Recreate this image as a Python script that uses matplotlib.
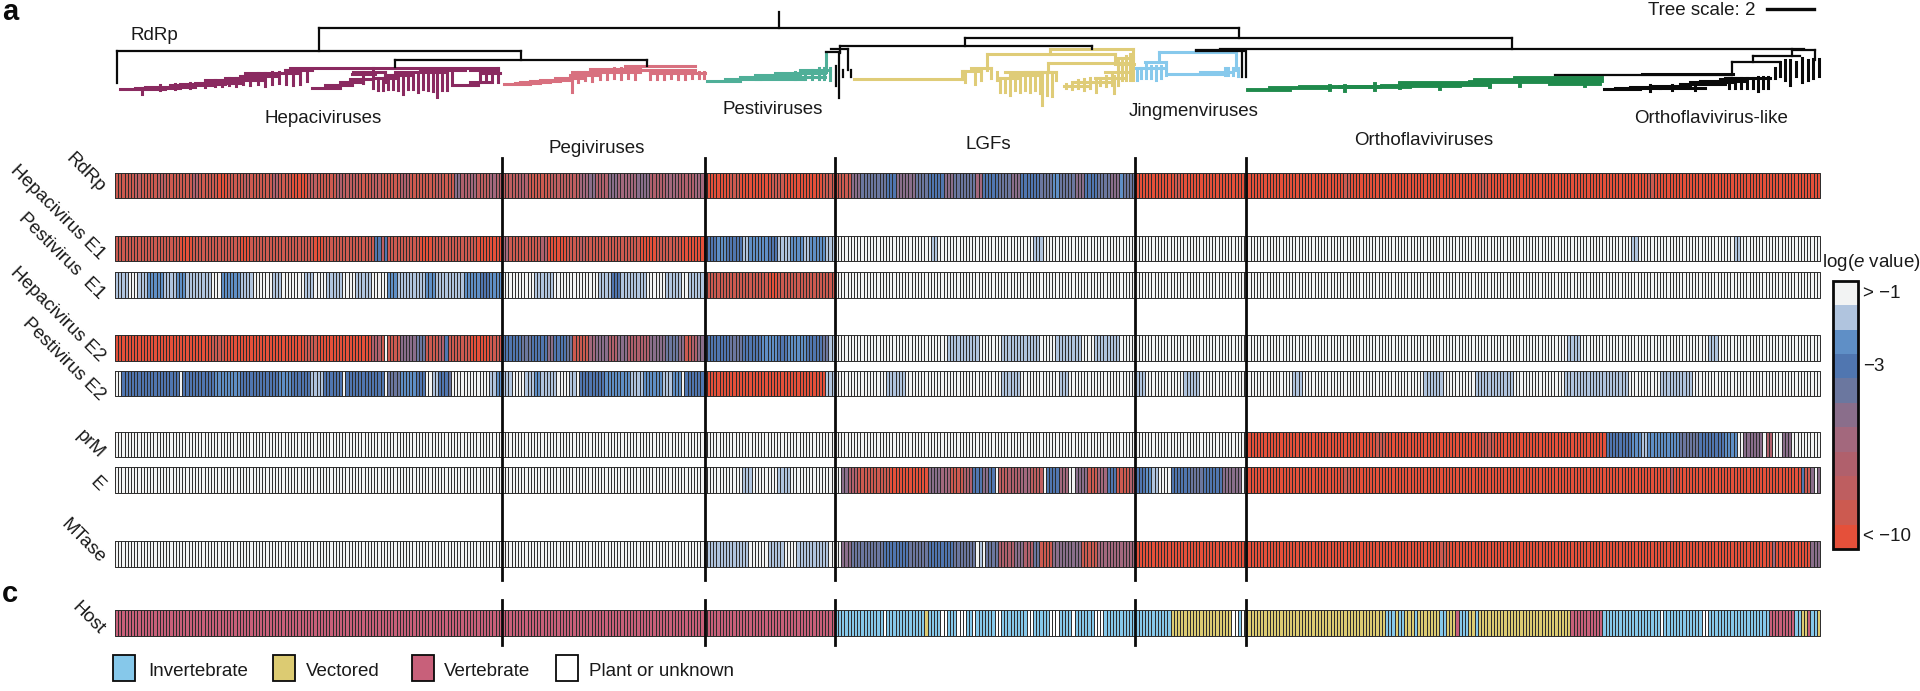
import numpy as np
import matplotlib
matplotlib.use('Agg')
from matplotlib import pyplot as plt
from matplotlib.collections import LineCollection
from matplotlib.colors import ListedColormap
from matplotlib.patches import Rectangle

plt.rcParams['font.family'] = ['Liberation Sans', 'DejaVu Sans']
plt.rcParams['mathtext.fontset'] = 'custom'
plt.rcParams['mathtext.it'] = 'Liberation Sans:italic'
plt.rcParams['mathtext.rm'] = 'Liberation Sans'

# ---- heat map values: runs of (cells, level), one list per section of the tree ----
# level 0 = "> -1" ... level 10 = "< -10"
section_cells = [121, 63, 41, 94, 35, 179]

rdrp = [
    [(6, 9), (2, 8), (5, 9), (3, 8), (8, 9), (2, 7), (6, 9), (3, 10), (5, 9), (2, 8), (7, 9), (2, 7), (4, 9), (5, 10),
     (3, 8), (6, 9), (2, 7), (5, 8), (4, 9), (3, 8), (6, 9), (3, 7), (8, 9), (2, 8), (4, 9),
     (2, 5), (3, 7), (2, 6), (4, 8), (2, 6), (2, 7)],
    [(5, 8), (3, 7), (7, 9), (3, 8), (6, 8), (3, 6), (2, 5), (4, 7), (3, 5), (6, 6), (4, 5), (5, 7), (4, 6), (5, 7), (3, 6)],
    [(8, 10), (3, 9), (10, 10), (4, 9), (12, 10), (4, 9)],
    [(5, 9), (3, 5), (8, 4), (3, 3), (6, 5), (4, 4), (5, 3), (3, 5), (7, 4), (2, 6), (5, 3), (4, 4), (3, 5), (6, 3),
     (4, 4), (2, 2), (5, 4), (3, 5), (4, 3), (4, 4), (3, 5), (1, 2), (4, 4)],
    [(12, 10), (2, 9), (21, 10)],
    [(30, 10), (2, 9), (40, 10), (3, 9), (50, 10), (2, 9), (52, 10)],
]
hepaci_e1 = [
    [(20, 9), (4, 10), (15, 9), (3, 10), (20, 9), (3, 10), (16, 9), (2, 3), (1, 8), (1, 3), (10, 9), (4, 10), (14, 9), (7, 10)],
    [(2, 6), (10, 9), (2, 7), (6, 10), (4, 9), (2, 8), (17, 9), (5, 10), (8, 9), (7, 10)],
    [(4, 3), (3, 2), (5, 3), (2, 1), (6, 2), (3, 3), (4, 1), (4, 2), (2, 1), (5, 2), (3, 1)],
    [(30, 0), (2, 1), (30, 0), (3, 1), (29, 0)],
    [(35, 0)],
    [(120, 0), (2, 1), (30, 0), (2, 1), (25, 0)],
]
pesti_e1 = [
    [(4, 1), (3, 0), (3, 1), (5, 2), (4, 1), (3, 2), (8, 1), (3, 0), (6, 2), (4, 1), (6, 0), (3, 1), (7, 0), (3, 1),
     (4, 0), (3, 1), (2, 1), (4, 0), (3, 1), (2, 1), (5, 0), (3, 2), (2, 1), (7, 1), (3, 2), (6, 1), (3, 1), (5, 2),
     (3, 3), (4, 2)],
    [(10, 0), (6, 1), (14, 0), (4, 1), (3, 3), (8, 1), (6, 0), (5, 1), (2, 0), (5, 1)],
    [(20, 9), (3, 10), (16, 9), (2, 9)],
    [(94, 0)],
    [(35, 0)],
    [(179, 0)],
]
hepaci_e2 = [
    [(30, 10), (4, 9), (25, 10), (4, 9), (17, 10), (3, 7), (1, 9), (1, 0), (4, 9), (5, 5), (3, 4), (4, 9), (2, 7),
     (1, 3), (7, 9), (6, 10), (4, 9)],
    [(6, 3), (3, 4), (5, 3), (2, 5), (4, 3), (2, 4), (5, 9), (2, 6), (4, 5), (3, 7), (3, 5), (4, 7), (3, 7), (5, 5),
     (4, 4), (2, 5), (2, 9), (2, 7), (2, 5)],
    [(8, 3), (4, 4), (6, 3), (5, 2), (3, 3), (6, 2), (5, 3), (2, 4), (2, 1)],
    [(35, 0), (10, 1), (7, 0), (12, 1), (5, 0), (8, 1), (4, 0), (8, 1), (5, 0)],
    [(35, 0)],
    [(100, 0), (4, 1), (40, 0), (3, 1), (32, 0)],
]
pesti_e2 = [
    [(2, 0), (18, 3), (1, 0), (10, 3), (8, 2), (12, 3), (4, 2), (6, 3), (4, 1), (6, 3), (1, 0), (12, 3), (1, 0), (4, 4),
     (5, 2), (3, 3), (2, 0), (2, 1), (3, 3), (1, 4), (12, 0), (2, 1), (2, 2)],
    [(3, 1), (4, 0), (3, 1), (2, 2), (5, 1), (4, 0), (2, 1), (1, 0), (8, 3), (8, 2), (4, 1), (6, 2), (3, 1), (3, 2), (1, 0), (6, 3)],
    [(38, 10), (3, 1)],
    [(16, 0), (6, 1), (30, 0), (6, 1), (12, 0), (3, 1), (21, 0)],
    [(3, 1), (12, 0), (5, 1), (15, 0)],
    [(14, 0), (3, 1), (38, 0), (6, 1), (10, 0), (4, 1), (8, 1), (16, 0), (20, 1), (10, 0), (10, 1), (40, 0)],
]
prm = [
    [(121, 0)],
    [(63, 0)],
    [(41, 0)],
    [(94, 0)],
    [(35, 0)],
    [(40, 10), (3, 9), (30, 10), (4, 9), (35, 10), (8, 3), (3, 2), (2, 1), (10, 2), (6, 4), (8, 3), (4, 2),
     (2, 0), (6, 5), (1, 0), (2, 7), (3, 0), (3, 5), (9, 0)],
]
env = [
    [(121, 0)],
    [(63, 0)],
    [(12, 0), (3, 1), (8, 0), (4, 1), (14, 0)],
    [(2, 0), (2, 5), (3, 7), (10, 9), (12, 10), (4, 5), (3, 6), (4, 9), (3, 7), (3, 3), (2, 5), (2, 3), (1, 0), (3, 8),
     (4, 7), (3, 6), (4, 8), (1, 0), (4, 3), (3, 6), (2, 0), (4, 5), (3, 9), (3, 6), (3, 3), (4, 9), (2, 7)],
    [(3, 3), (2, 2), (2, 1), (4, 0), (6, 3), (4, 4), (6, 3), (6, 5), (2, 0)],
    [(30, 10), (2, 9), (100, 10), (1, 7), (40, 10), (1, 3), (2, 9), (1, 5), (1, 0), (1, 5)],
]
mtase = [
    [(121, 0)],
    [(63, 0)],
    [(14, 1), (6, 0), (5, 1), (4, 0), (6, 1), (4, 1), (2, 0)],
    [(2, 0), (3, 5), (10, 4), (8, 3), (6, 4), (8, 3), (7, 4), (1, 0), (1, 1), (1, 0), (4, 4), (5, 7), (3, 5), (3, 7),
     (2, 4), (4, 9), (9, 5), (5, 9), (12, 6)],
    [(35, 10)],
    [(60, 10), (2, 9), (102, 10), (1, 6), (11, 10), (3, 5)],
]
# host runs: 0 plant or unknown, 1 invertebrate, 2 vectored, 3 vertebrate
host = [
    [(121, 3)],
    [(63, 3)],
    [(41, 3)],
    [(15, 1), (1, 0), (12, 1), (1, 2), (4, 1), (2, 0), (3, 1), (3, 0), (2, 1), (1, 0), (6, 1), (2, 0), (8, 1), (2, 0),
     (5, 1), (3, 0), (4, 1), (1, 0), (6, 1), (3, 0), (10, 1)],
    [(11, 1), (19, 2), (2, 0), (1, 1), (2, 0)],
    [(43, 2), (3, 1), (1, 2), (2, 1), (3, 2), (1, 1), (3, 2), (4, 2), (2, 1), (3, 2), (1, 3), (3, 1), (2, 2), (1, 1),
     (10, 2), (19, 2), (10, 3), (18, 1), (1, 0), (12, 1), (2, 0), (19, 1), (8, 3), (2, 1), (2, 2), (1, 3), (2, 1), (1, 2)],
]

row_names = ['RdRp', 'Hepacivirus E1', 'Pestivirus  E1', 'Hepacivirus E2', 'Pestivirus E2', 'prM', 'E', 'MTase']
row_values = [rdrp, hepaci_e1, pesti_e1, hepaci_e2, pesti_e2, prm, env, mtase]

level_colors = ['#F2F3F3', '#B0C4DE', '#5F8FC6', '#5076B0', '#6B779F', '#8A6E8B',
                '#A3687D', '#B0606C', '#BE5E60', '#CC5A50', '#E5503A']
cbar_labels = ['> \u22121', '\u22123', '< \u221210']
cbar_label_levels = [0, 3, 10]
host_names = ['Invertebrate', 'Vectored', 'Vertebrate', 'Plant or unknown']
host_colors = ['#FFFFFF', '#86C8EA', '#DCCB72', '#C8607A']

# ---- tree: horizontals (x0, x1, y), verticals (x, y0, y1) ----
main_h = [(319, 1239, 28), (117, 521, 51), (395, 647, 60), (965, 1512, 38), (840, 1092, 46), (1196, 1244, 51),
          (1196, 1244, 50), (1220, 1804, 49), (1792, 1815, 50), (1753, 1800, 56), (1732, 1780, 62), (1555, 1732, 75),
          (831, 848, 49), (826, 840, 52)]
main_v = [(779, 12, 28), (319, 28, 51), (1239, 28, 38), (117, 51, 83), (521, 51, 60), (395, 60, 67), (647, 60, 66),
          (965, 38, 46), (840, 46, 53), (1092, 46, 49), (1512, 38, 49), (1732, 62, 75), (1753, 56, 62), (1792, 49, 56),
          (1815, 50, 60), (839, 52, 98), (836, 66, 86), (848, 49, 70), (1242, 51, 77), (1246, 51, 77)]
main_tips = [(843, 70, 77), (851, 70, 77)]

like_h = [(1604, 1640, 89), (1615, 1660, 88), (1630, 1680, 87), (1650, 1690, 86), (1660, 1705, 88), (1680, 1725, 84),
          (1690, 1735, 82), (1700, 1745, 81), (1725, 1770, 78), (1642, 1733, 74), (1720, 1745, 79)]
like_tips = [(1650, 85, 91), (1672, 85, 90), (1695, 84, 90), (1729, 78, 88), (1735, 78, 88), (1741, 78, 88), (1747, 78, 88),
             (1753, 78, 88), (1758, 77, 91), (1763, 77, 88), (1768, 77, 88), (1775, 68, 78), (1780, 62, 76),
             (1785, 60, 80), (1790, 60, 85), (1796, 62, 76), (1802, 58, 82), (1808, 60, 80), (1813, 59, 78),
             (1819, 59, 76)]

hepaci_h = [(120, 165, 89), (135, 180, 88), (145, 195, 87), (170, 215, 85), (180, 225, 84), (195, 240, 83), (205, 262, 80),
            (225, 262, 78), (240, 278, 76), (245, 300, 73), (285, 312, 70), (290, 498, 68), (312, 340, 88), (325, 352, 85),
            (340, 363, 82), (350, 373, 79), (352, 375, 74), (353, 385, 72), (375, 395, 78), (385, 410, 75), (395, 445, 72),
            (420, 465, 70), (455, 478, 85), (470, 490, 82), (480, 500, 73), (470, 498, 70)]
hepaci_tips = [(142, 88, 94), (160, 85, 90), (175, 84, 89), (190, 83, 88), (205, 81, 87), (215, 80, 86), (222, 80, 86), (229, 78, 85),
               (236, 78, 86), (243, 76, 84), (250, 76, 85), (258, 73, 84), (265, 73, 86), (272, 72, 84), (279, 72, 83),
               (286, 70, 84), (293, 70, 85), (300, 70, 84), (307, 70, 81), (363, 72, 83), (373, 68, 88), (385, 72, 82),
               (378, 78, 90), (383, 78, 90), (388, 78, 89), (393, 75, 89), (398, 75, 90), (403, 75, 94), (408, 73, 89),
               (413, 73, 89), (418, 72, 92), (423, 72, 89), (428, 72, 90), (433, 72, 91), (437, 72, 97), (442, 72, 90),
               (447, 72, 90), (452, 72, 85), (480, 73, 82), (486, 73, 80), (492, 70, 82), (498, 68, 82)]

pegi_h = [(504, 530, 84), (515, 540, 83), (520, 550, 82), (530, 560, 81), (540, 572, 80), (555, 585, 78), (570, 600, 75),
          (575, 640, 72), (590, 640, 69), (625, 695, 66), (640, 695, 70), (650, 705, 73)]
pegi_tips = [(572, 72, 92), (578, 72, 82), (585, 72, 80), (592, 70, 81), (600, 70, 79), (607, 70, 79), (614, 68, 78),
             (621, 68, 79), (628, 68, 78), (635, 68, 79), (650, 72, 79), (657, 72, 79), (664, 72, 79), (671, 72, 78),
             (678, 72, 79), (685, 72, 79), (692, 72, 78), (699, 72, 78), (704, 72, 78)]

pesti_h = [(707, 740, 81), (725, 760, 79), (740, 780, 77), (755, 800, 75), (775, 825, 73), (800, 830, 70), (756, 803, 79), (780, 825, 77)]
pesti_tips = [(795, 72, 79), (805, 72, 79), (812, 70, 79), (819, 68, 79), (824, 68, 79), (826, 52, 72), (830, 68, 80)]

lgf_h = [(854, 962, 79), (962, 981, 71), (971, 991, 68), (987, 1115, 54), (1050, 1133, 49), (1048, 1132, 63),
         (1005, 1050, 72), (999, 1020, 78), (1010, 1040, 75), (1025, 1056, 72), (1064, 1090, 86), (1075, 1110, 82),
         (1095, 1125, 78), (1105, 1132, 72), (1115, 1134, 64), (1117, 1133, 58)]
lgf_tips = [(1050, 49, 54), (1115, 54, 63), (1048, 63, 72), (987, 54, 70), (962, 71, 79), (981, 71, 80), (991, 68, 78),
            (1133, 49, 80), (965, 71, 82), (975, 71, 84), (997, 72, 80), (1000, 78, 92), (1005, 78, 92), (1010, 76, 95),
            (1015, 76, 90), (1020, 76, 92), (1025, 74, 90), (1030, 74, 92), (1035, 74, 90), (1040, 72, 93), (1042, 72, 105),
            (1047, 72, 95), (1052, 72, 96), (1056, 72, 80), (1066, 84, 88), (1072, 82, 89), (1078, 80, 88), (1084, 79, 90),
            (1090, 78, 88), (1096, 78, 92), (1100, 78, 85), (1106, 76, 86), (1112, 75, 85), (1114, 76, 93), (1118, 60, 85),
            (1122, 58, 80), (1126, 56, 80), (1130, 54, 80)]

jingmen_h = [(1159, 1236, 52), (1136, 1166, 68), (1169, 1225, 74), (1200, 1230, 72), (1145, 1166, 62)]
jingmen_tips = [(1159, 52, 62), (1236, 52, 70), (1166, 62, 75), (1225, 68, 75), (1137, 70, 80), (1141, 68, 78),
                (1146, 64, 78), (1151, 66, 78), (1156, 66, 80), (1161, 66, 78), (1228, 68, 75), (1233, 68, 75), (1238, 68, 76)]

ortho_h = [(1248, 1290, 90), (1270, 1330, 88), (1300, 1380, 87), (1340, 1410, 87), (1382, 1460, 86), (1420, 1490, 85),
           (1400, 1480, 83), (1470, 1550, 82), (1475, 1535, 80), (1515, 1602, 78), (1530, 1602, 81), (1550, 1600, 84)]
ortho_tips = [(1330, 86, 90), (1345, 86, 91), (1375, 84, 90), (1400, 84, 88), (1440, 84, 89), (1490, 82, 87), (1520, 80, 86), (1585, 80, 86)]


def expand(sections):
    # runs -> one value per cell, each section forced to its own cell count
    cells = []
    for runs, n in zip(sections, section_cells):
        vals = np.repeat([r[1] for r in runs], [r[0] for r in runs])
        vals = np.resize(np.append(vals, [vals[-1]] * n), n)
        cells.append(vals[:n])
    return np.concatenate(cells)


fig = plt.figure(figsize=(19.2, 6.91), dpi=100)
ax = fig.add_axes([0, 0, 1, 1])
ax.set_xlim(0, 1920)
ax.set_ylim(691, 0)
ax.axis('off')

# layout in figure pixels
x_edges = np.linspace(115, 1820, sum(section_cells) + 1)
row_spans = [(173, 198), (236, 261), (272, 298), (335, 361), (371, 396), (432, 457), (467, 493), (541, 567)]
label_ends = [(102, 190), (102, 257), (102, 297), (102, 359), (102, 398), (102, 456), (102, 489), (102, 561)]
host_span = (610, 636)
sep_x = [502, 705, 835, 1135, 1246]

level_cmap = ListedColormap(level_colors)
for name, vals, span, end in zip(row_names, row_values, row_spans, label_ends):
    z = expand(vals)[np.newaxis, :]
    ax.pcolormesh(x_edges, span, z, cmap=level_cmap, vmin=0, vmax=10, edgecolors='#2B2B2B', linewidth=0.7, antialiased=True)
    ax.text(end[0], end[1], name, rotation=-45, rotation_mode='anchor', ha='right', va='center', fontsize=13.5, color='#1A1A1A')

# host strip
ax.pcolormesh(x_edges, host_span, expand(host)[np.newaxis, :], cmap=ListedColormap(host_colors), vmin=0, vmax=3,
              edgecolors='#2B2B2B', linewidth=0.7, antialiased=True)
ax.text(102, 632, 'Host', rotation=-45, rotation_mode='anchor', ha='right', va='center', fontsize=13.5, color='#1A1A1A')

# clade separators
for x in sep_x:
    ax.plot([x, x], [158, 580], color='#0A0A0A', lw=2)
    ax.plot([x, x], [600, 645], color='#0A0A0A', lw=2)


def draw_clade(h, tips, color, lw):
    segs = [[(a, y), (b, y)] for a, b, y in h] + [[(x, a), (x, b)] for x, a, b in tips]
    ax.add_collection(LineCollection(segs, colors=color, linewidths=lw, capstyle='projecting'))


draw_clade(hepaci_h, hepaci_tips, '#8A2A60', 2.2)
draw_clade(pegi_h, pegi_tips, '#D8707F', 2.2)
draw_clade(pesti_h, pesti_tips, '#4FAF98', 2.2)
draw_clade(lgf_h, lgf_tips, '#DFCC78', 2.2)
draw_clade(jingmen_h, jingmen_tips, '#87C9EC', 2.2)
draw_clade(ortho_h, ortho_tips, '#1F8A4C', 2.8)
draw_clade(main_h, main_v + main_tips, '#0A0A0A', 1.6)
draw_clade(like_h, like_tips, '#0A0A0A', 2.2)

# tree scale
ax.plot([1767, 1814], [9, 9], color='#0A0A0A', lw=2.4)
ax.text(1756, 10, 'Tree scale: 2', ha='right', va='center', fontsize=13.5, color='#1A1A1A')

# clade names
ax.text(130, 35, 'RdRp', ha='left', va='center', fontsize=13.5, color='#1A1A1A')
for name, x, y in [('Hepaciviruses', 323, 118), ('Pegiviruses', 597, 148), ('Pestiviruses', 773, 109), ('LGFs', 988, 144),
                   ('Jingmenviruses', 1194, 111), ('Orthoflaviviruses', 1424, 140), ('Orthoflavivirus-like', 1711, 118)]:
    ax.text(x, y, name, ha='center', va='center', fontsize=13.5, color='#1A1A1A')

# panel letters
ax.text(2, 12, 'a', ha='left', va='center', fontsize=21, fontweight='bold', color='#0A0A0A')
ax.text(2, 594, 'c', ha='left', va='center', fontsize=21, fontweight='bold', color='#0A0A0A')

# colour bar, level 0 on top
cbar_edges = np.linspace(281, 549, len(level_colors) + 1)
ax.pcolormesh([1833, 1858], cbar_edges, np.arange(len(level_colors))[:, np.newaxis], cmap=level_cmap, vmin=0, vmax=10)
ax.add_patch(Rectangle((1833, 281), 25, 268, fill=False, edgecolor='#0A0A0A', lw=2))
ax.text(1871, 262, 'log($\\mathit{e}$ value)', ha='center', va='center', fontsize=13.5, color='#1A1A1A')
for lab, level in zip(cbar_labels, cbar_label_levels):
    ax.text(1863, (cbar_edges[level] + cbar_edges[level + 1]) / 2, lab, ha='left', va='center', fontsize=13.5, color='#1A1A1A')

# host legend
legend_x = [113, 273, 412, 556]
legend_text_x = [148, 306, 444, 589]
for i, name in enumerate(host_names):
    color = host_colors[(i + 1) % 4]
    ax.add_patch(Rectangle((legend_x[i], 655), 22, 26, facecolor=color, edgecolor='#0A0A0A', lw=1.3))
    ax.text(legend_text_x[i], 671, name, ha='left', va='center', fontsize=13.5, color='#1A1A1A')

fig.savefig('out.png', dpi=100)
